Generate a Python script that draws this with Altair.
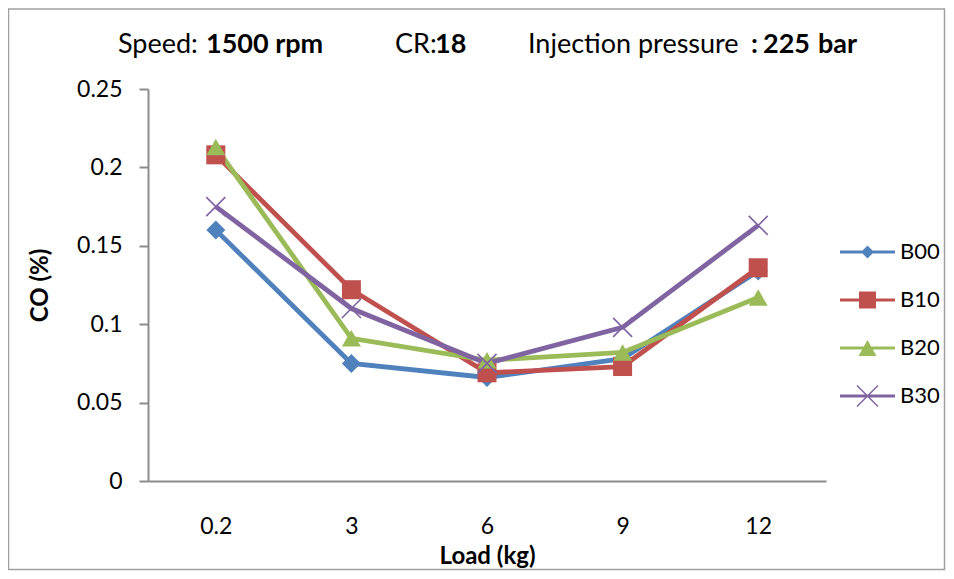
import altair as alt
import pandas as pd

# ---- data ----
loads = ["0.2", "3", "6", "9", "12"]
series = ["B00", "B10", "B20", "B30"]
b00 = [0.160, 0.075, 0.066, 0.078, 0.134]
b10 = [0.208, 0.122, 0.069, 0.073, 0.136]
b20 = [0.213, 0.091, 0.077, 0.082, 0.117]
b30 = [0.175, 0.110, 0.075, 0.098, 0.163]
y_ticks = [0, 0.05, 0.1, 0.15, 0.2, 0.25]
header_texts = ["Speed:", "1500 rpm", "CR:", "18", "Injection pressure", ":", "225", "bar"]
header_weights = ["normal", "bold", "normal", "bold", "normal", "bold", "bold", "bold"]

# ---- styling ----
colors = ["#4F81BD", "#C0504D", "#9BBB59", "#8064A2"]
FONT = "Lato"
AXIS_GRAY = "#8c8c8c"
header_x = [-30, 58, 247, 287, 380, 603, 615, 670]
header_y = -36

x_mark = "M-0.94,-1.06L1.06,0.94L0.94,1.06L-1.06,-0.94Z M-1.06,0.94L0.94,-1.06L1.06,-0.94L-0.94,1.06Z"
pt_shapes = ["diamond", "square", "triangle-up", x_mark]

leg_line = "M-1.146,-0.0625H1.146V0.0625H-1.146Z"
leg_shapes = [
    leg_line + " M0,-0.27L0.27,0L0,0.27L-0.27,0Z",
    leg_line + " M-0.354,-0.354H0.354V0.354H-0.354Z",
    leg_line + " M0,-0.333L0.375,0.333L-0.375,0.333Z",
    leg_line + " M-0.4155,-0.4595L0.4595,0.4155L0.4155,0.4595L-0.4595,-0.4155Z"
               " M-0.4595,0.4155L0.4155,-0.4595L0.4595,-0.4155L-0.4155,0.4595Z",
]

rows = []
for s, vals in zip(series, [b00, b10, b20, b30]):
    for l, v in zip(loads, vals):
        rows.append({"load": l, "series": s, "co": v})
df = pd.DataFrame(rows)
one = pd.DataFrame({"k": [0]})

x_enc = alt.X(
    "load:N", sort=loads,
    scale=alt.Scale(type="point", domain=loads, padding=0.5),
    axis=alt.Axis(
        labelAngle=0, ticks=False, tickSize=0, grid=False,
        domainColor=AXIS_GRAY, domainWidth=2,
        labelFont=FONT, labelFontSize=23, labelColor="#000",
        labelBaseline="alphabetic", labelPadding=52,
        title="Load (kg)", titleFont=FONT, titleFontSize=24, titleFontWeight="bold",
        titleColor="#000", titleBaseline="alphabetic", titleY=82,
    ),
)
y_enc = alt.Y(
    "co:Q",
    scale=alt.Scale(domain=[0, 0.25], nice=False, zero=True),
    axis=alt.Axis(
        values=y_ticks, format=".2~f", grid=False,
        domainColor=AXIS_GRAY, domainWidth=2,
        tickColor=AXIS_GRAY, tickWidth=2, tickSize=9,
        labelFont=FONT, labelFontSize=23, labelColor="#000", labelPadding=17,
        title="CO (%)", titleFont=FONT, titleFontSize=24, titleFontWeight="bold",
        titleColor="#000", titleX=-108, titleBaseline="middle",
    ),
)

def color_enc(legend=None):
    return alt.Color("series:N", scale=alt.Scale(domain=series, range=colors), legend=legend)

base = alt.Chart(df)

border = alt.Chart(one).mark_rect(fillOpacity=0, stroke="#a0a0a0", strokeWidth=1.5).encode(
    x=alt.value(-139.5), x2=alt.value(796.5), y=alt.value(-80), y2=alt.value(480.5)
)

lines = base.mark_line(strokeWidth=4.8).encode(x=x_enc, y=y_enc, color=color_enc(), detail="series:N")

points = base.mark_point(filled=True, opacity=1, size=361).encode(
    x=x_enc, y=y_enc, color=color_enc(),
    shape=alt.Shape("series:N", scale=alt.Scale(domain=series, range=pt_shapes), legend=None),
)

leg_kwargs = dict(
    title=None, orient="none", legendX=695.5, legendY=139, padding=0,
    symbolSize=2304, symbolStrokeWidth=0, symbolOpacity=1, rowPadding=13,
    labelFont=FONT, labelFontSize=22, labelColor="#000", labelOffset=8.5,
)
legend_layer = base.mark_point(filled=True, opacity=0).encode(
    x=x_enc, y=y_enc,
    color=color_enc(alt.Legend(**leg_kwargs)),
    shape=alt.Shape("series:N", scale=alt.Scale(domain=series, range=leg_shapes),
                    legend=alt.Legend(**leg_kwargs)),
)

header_layers = []
for t, w, hx in zip(header_texts, header_weights, header_x):
    header_layers.append(
        alt.Chart(one).mark_text(
            text=t, font=FONT, fontSize=27, fontWeight=w, color="#000",
            align="left", baseline="alphabetic",
        ).encode(x=alt.value(hx), y=alt.value(header_y))
    )

chart = alt.layer(border, lines, points, legend_layer, *header_layers).resolve_scale(
    color="independent", shape="independent"
).properties(
    width=678, height=392,
    autosize=alt.AutoSizeParams(type="none"),
    padding={"left": 140, "top": 81, "right": 120, "bottom": 90},
    background="white",
).configure(font=FONT).configure_view(stroke=None)

chart.save("out.html", embed_options={"renderer": "svg", "actions": False})
